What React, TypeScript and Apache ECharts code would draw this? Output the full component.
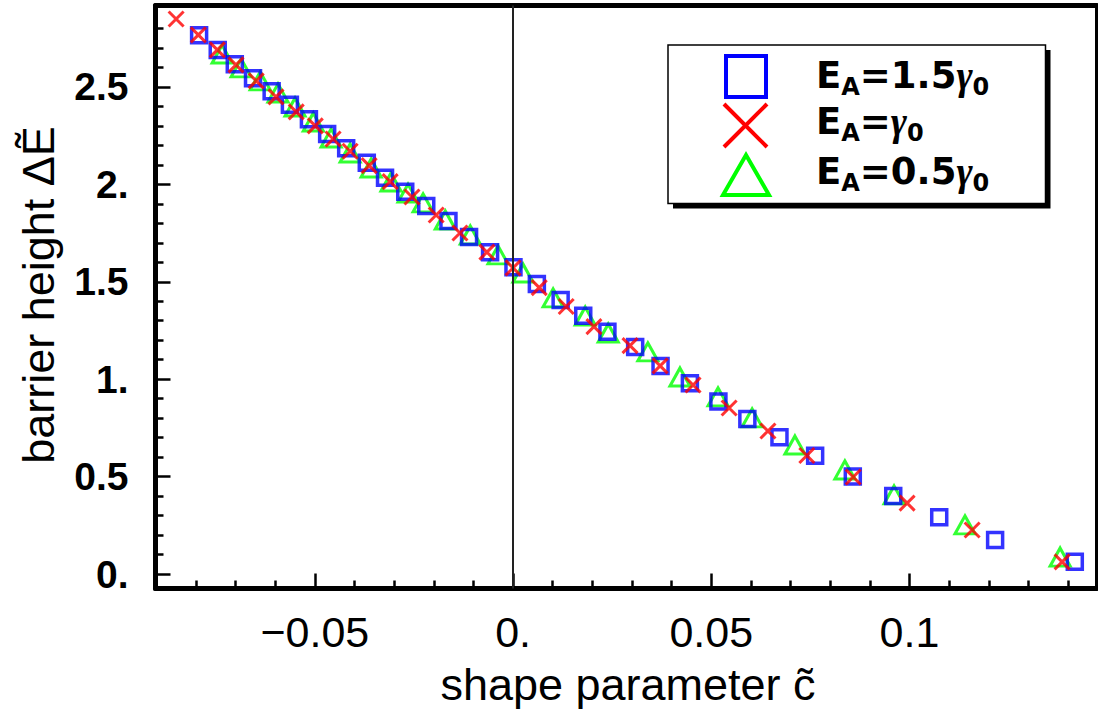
import { useEffect, useRef } from 'react';
import * as echarts from 'echarts';

// Axis ranges
const X_MIN = -0.0902;
const X_MAX = 0.1473;
const Y_MIN = -0.0744;
const Y_MAX = 2.918;

// Tick positions and labels
const X_MAJOR = [-0.05, 0, 0.05, 0.1];
const X_LABELS = ['\u22120.05', '0.', '0.05', '0.1'];
const X_MINOR = [-0.08, -0.07, -0.06, -0.04, -0.03, -0.02, -0.01, 0.01, 0.02, 0.03, 0.04, 0.06, 0.07, 0.08, 0.09, 0.11, 0.12, 0.13, 0.14];
const Y_MAJOR = [0, 0.5, 1, 1.5, 2, 2.5];
const Y_LABELS = ['0.', '0.5', '1.', '1.5', '2.', '2.5'];
const Y_MINOR = [0.1, 0.2, 0.3, 0.4, 0.6, 0.7, 0.8, 0.9, 1.1, 1.2, 1.3, 1.4, 1.6, 1.7, 1.8, 1.9, 2.1, 2.2, 2.3, 2.4, 2.6, 2.7, 2.8];

// Series: E_A = 1.5 gamma0 (blue squares)
const SQ_X = [-0.0792, -0.0745, -0.0702, -0.0656, -0.0609, -0.0563, -0.0515, -0.0469, -0.0421, -0.0369, -0.0323, -0.0272, -0.0219, -0.0163, -0.0111, -0.0058, 0.0001, 0.006, 0.012, 0.0177, 0.0238, 0.0308, 0.0372, 0.0446, 0.0518, 0.0591, 0.0672, 0.0762, 0.0857, 0.0959, 0.1075, 0.1216, 0.1417];
const SQ_Y = [2.765, 2.69, 2.617, 2.545, 2.478, 2.408, 2.334, 2.258, 2.185, 2.111, 2.034, 1.962, 1.889, 1.812, 1.73, 1.651, 1.574, 1.488, 1.407, 1.326, 1.244, 1.165, 1.068, 0.979, 0.886, 0.796, 0.702, 0.607, 0.5, 0.4, 0.291, 0.175, 0.063];

// Series: E_A = gamma0 (red crosses)
const CR_X = [-0.085, -0.0794, -0.0746, -0.0699, -0.0648, -0.0598, -0.0547, -0.0499, -0.0454, -0.0411, -0.0363, -0.031, -0.0255, -0.0194, -0.0134, -0.0066, 0.0, 0.0066, 0.0134, 0.0204, 0.0295, 0.0371, 0.0454, 0.0545, 0.0643, 0.0741, 0.0858, 0.0994, 0.1158, 0.1385];
const CR_Y = [2.849, 2.767, 2.69, 2.613, 2.531, 2.449, 2.372, 2.3, 2.233, 2.17, 2.096, 2.014, 1.935, 1.843, 1.75, 1.652, 1.571, 1.47, 1.373, 1.27, 1.172, 1.068, 0.97, 0.852, 0.734, 0.608, 0.498, 0.364, 0.226, 0.062];

// Series: E_A = 0.5 gamma0 (green triangles)
const TR_X = [-0.0734, -0.0686, -0.0638, -0.0593, -0.055, -0.0504, -0.0459, -0.0411, -0.0358, -0.0308, -0.0265, -0.0227, -0.0171, -0.0108, -0.0038, 0.0025, 0.0101, 0.0182, 0.024, 0.034, 0.0421, 0.0517, 0.0603, 0.0711, 0.0837, 0.0961, 0.114, 0.138];
const TR_Y = [2.669, 2.598, 2.531, 2.469, 2.397, 2.32, 2.238, 2.161, 2.084, 2.012, 1.955, 1.905, 1.817, 1.74, 1.638, 1.545, 1.417, 1.324, 1.237, 1.14, 1.011, 0.909, 0.801, 0.662, 0.534, 0.406, 0.252, 0.087];

const FONT = '"Liberation Sans", Arial, Helvetica, sans-serif';
const LEG_FONT = '"DejaVu Sans", "Liberation Sans", sans-serif';

const pairs = (xs: number[], ys: number[]) => xs.map((x, i) => [x, ys[i]]);
const labelFor = (ticks: number[], labels: string[]) => (v: number) => {
  const i = ticks.findIndex((t) => Math.abs(t - v) < 1e-9);
  return i >= 0 ? labels[i] : '';
};

const legendRich = {
  m: { fontSize: 37, fontWeight: 'bold', fontFamily: LEG_FONT, lineHeight: 48, fill: '#000', verticalAlign: 'middle' },
  s: { fontSize: 24, fontWeight: 'bold', fontFamily: LEG_FONT, lineHeight: 25, fill: '#000', verticalAlign: 'bottom' },
  g: { fontSize: 39, fontWeight: 'bold', fontStyle: 'italic', fontFamily: '"Liberation Serif", "DejaVu Serif", serif', lineHeight: 48, fill: '#000', verticalAlign: 'middle' },
};

export default function App() {
  const ref = useRef<HTMLDivElement>(null);

  useEffect(() => {
    if (!ref.current) return;
    const chart = echarts.init(ref.current, null, { renderer: 'svg' });
    const black = '#000';
    const baseX = { type: 'value', min: X_MIN, max: X_MAX, splitLine: { show: false } };
    const baseY = { type: 'value', min: Y_MIN, max: Y_MAX, splitLine: { show: false } };
    const option: any = {
      animation: false,
      backgroundColor: '#fff',
      grid: { left: 155.5, right: 1, top: 5.5, bottom: 124.5, containLabel: false },
      xAxis: [
        {
          ...baseX,
          position: 'bottom',
          axisLine: { show: true, onZero: false, lineStyle: { color: black, width: 5 } },
          axisTick: { show: true, inside: true, length: 15, customValues: X_MAJOR, lineStyle: { color: black, width: 2.5 } },
          axisLabel: { show: true, customValues: X_MAJOR, margin: 22, fontSize: 43, fontFamily: FONT, color: black, formatter: labelFor(X_MAJOR, X_LABELS) },
        },
        {
          ...baseX,
          position: 'bottom',
          axisLine: { show: false, onZero: false },
          axisTick: { show: true, inside: true, length: 8, customValues: X_MINOR, lineStyle: { color: black, width: 2.5 } },
          axisLabel: { show: false },
        },
        {
          ...baseX,
          position: 'top',
          axisLine: { show: true, onZero: false, lineStyle: { color: black, width: 5 } },
          axisTick: { show: false },
          axisLabel: { show: false },
        },
      ],
      yAxis: [
        {
          ...baseY,
          position: 'left',
          axisLine: { show: true, onZero: false, lineStyle: { color: black, width: 5 } },
          axisTick: { show: true, inside: true, length: 15, customValues: Y_MAJOR, lineStyle: { color: black, width: 2.5 } },
          axisLabel: { show: true, customValues: Y_MAJOR, margin: 27, fontSize: 39, fontWeight: 'bold', fontFamily: FONT, color: black, formatter: labelFor(Y_MAJOR, Y_LABELS) },
        },
        {
          ...baseY,
          position: 'left',
          axisLine: { show: false, onZero: false },
          axisTick: { show: true, inside: true, length: 8, customValues: Y_MINOR, lineStyle: { color: black, width: 2.5 } },
          axisLabel: { show: false },
        },
        {
          ...baseY,
          position: 'right',
          axisLine: { show: true, onZero: false, lineStyle: { color: black, width: 4 } },
          axisTick: { show: false },
          axisLabel: { show: false },
        },
      ],
      series: [
        {
          type: 'scatter',
          name: 'EA=0.5γ0',
          data: pairs(TR_X, TR_Y),
          symbol: 'triangle',
          symbolSize: [20, 18],
          itemStyle: { color: 'rgba(0,0,0,0)', borderColor: '#00ff00', borderWidth: 3 },
          markLine: {
            silent: true,
            symbol: ['none', 'none'],
            label: { show: false },
            lineStyle: { color: '#222', width: 2, type: 'solid' },
            data: [{ xAxis: 0 }],
          },
        },
        {
          type: 'scatter',
          name: 'EA=1.5γ0',
          data: pairs(SQ_X, SQ_Y),
          symbol: 'rect',
          symbolSize: 15,
          itemStyle: { color: 'rgba(0,0,0,0)', borderColor: '#0000ff', borderWidth: 3.5 },
        },
        {
          type: 'scatter',
          name: 'EA=γ0',
          data: pairs(CR_X, CR_Y),
          symbol: 'path://M0,0L10,10M10,0L0,10',
          symbolSize: 15,
          itemStyle: { color: 'rgba(0,0,0,0)', borderColor: '#ff0000', borderWidth: 3 },
        },
      ],
      graphic: [
        // legend shadow & box
        { type: 'rect', shape: { x: 673, y: 50, width: 377.5, height: 158.5 }, style: { fill: '#000' }, z: 10 },
        { type: 'rect', shape: { x: 668, y: 45, width: 377.5, height: 158.5 }, style: { fill: '#fff', stroke: '#000', lineWidth: 1.5 }, z: 11 },
        // legend markers
        { type: 'rect', shape: { x: 726, y: 56, width: 40, height: 41 }, style: { fill: 'none', stroke: '#0000ff', lineWidth: 4 }, z: 12 },
        { type: 'line', shape: { x1: 724, y1: 104, x2: 767, y2: 147 }, style: { stroke: '#ff0000', lineWidth: 4 }, z: 12 },
        { type: 'line', shape: { x1: 767, y1: 104, x2: 724, y2: 147 }, style: { stroke: '#ff0000', lineWidth: 4 }, z: 12 },
        { type: 'polygon', shape: { points: [[746, 155], [769, 195], [723, 195]] }, style: { fill: 'none', stroke: '#00ff00', lineWidth: 4 }, z: 12 },
        // legend texts
        { type: 'text', x: 816, y: 75, z: 12, style: { text: '{m|E}{s|A}{m|=1.5}{g|γ}{s|0}', rich: legendRich, align: 'left', verticalAlign: 'middle' } },
        { type: 'text', x: 816, y: 121, z: 12, style: { text: '{m|E}{s|A}{m|=}{g|γ}{s|0}', rich: legendRich, align: 'left', verticalAlign: 'middle' } },
        { type: 'text', x: 816, y: 171, z: 12, style: { text: '{m|E}{s|A}{m|=0.5}{g|γ}{s|0}', rich: legendRich, align: 'left', verticalAlign: 'middle' } },
        // axis titles
        { type: 'text', x: 628, y: 684, style: { text: 'shape parameter c\u0303', fontSize: 45, fontFamily: FONT, fill: '#000', align: 'center', verticalAlign: 'middle' } },
        { type: 'text', x: 38.5, y: 295, rotation: Math.PI / 2, style: { text: 'barrier height \u0394\u1EBC', fontSize: 45, fontFamily: FONT, fill: '#000', align: 'center', verticalAlign: 'middle' } },
      ],
    };
    chart.setOption(option);
    return () => chart.dispose();
  }, []);

  return (
    <div
      ref={ref}
      style={{ position: 'fixed', left: 0, top: 0, width: 1098, height: 713, background: '#fff' }}
    />
  );
}
